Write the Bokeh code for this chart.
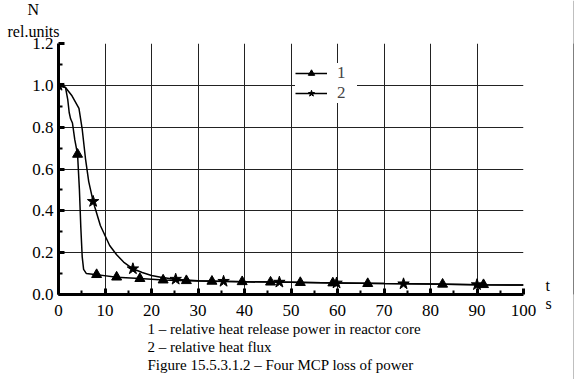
from bokeh.plotting import figure
from bokeh.models import (FixedTicker, PrintfTickFormatter, Legend, LegendItem,
                          Range1d, Title, LinearAxis)
from bokeh.layouts import row
from bokeh.embed import file_html
from bokeh.resources import INLINE

# ---- data ----
t1 = [0, 1.5, 2.0, 2.3, 2.6, 3.0, 3.5, 4.1, 4.5, 4.8, 5.1, 5.4, 6.0, 8.2, 12.5,
      17.5, 22.5, 27.5, 33, 40, 50, 60, 70, 80, 90, 100]
n1 = [1.0, 0.99, 0.93, 0.87, 0.84, 0.82, 0.74, 0.67, 0.50, 0.32, 0.18, 0.12, 0.10,
      0.095, 0.083, 0.076, 0.069, 0.066, 0.063, 0.061, 0.058, 0.055, 0.052, 0.050,
      0.047, 0.045]
t1_mark = [4.1, 8.2, 12.5, 17.5, 22.5, 27.5, 33, 39.5, 45.6, 52, 59, 66.5, 82.6, 91.4]
n1_mark = [0.67, 0.095, 0.083, 0.076, 0.069, 0.066, 0.063, 0.061, 0.059, 0.057,
           0.055, 0.052, 0.049, 0.047]

t2 = [0, 1.5, 2.9, 4.4, 5.1, 5.8, 6.5, 7.45, 9.0, 11.0, 12.5, 14, 16, 18, 20, 22,
      25, 30, 35, 40, 50, 60, 70, 80, 90, 100]
n2 = [1.0, 0.99, 0.95, 0.89, 0.79, 0.65, 0.54, 0.445, 0.33, 0.234, 0.19, 0.155,
      0.123, 0.105, 0.091, 0.082, 0.073, 0.066, 0.063, 0.061, 0.058, 0.055, 0.052,
      0.050, 0.047, 0.045]
t2_mark = [0, 7.45, 16, 25.2, 35.5, 47.5, 59.8, 74.2, 90]
n2_mark = [1.0, 0.445, 0.123, 0.073, 0.063, 0.059, 0.055, 0.051, 0.047]

x_ticks = [0, 10, 20, 30, 40, 50, 60, 70, 80, 90, 100]
x_minor = [5, 15, 25, 35, 45, 55, 65, 75, 85, 95]
y_ticks = [0.0, 0.2, 0.4, 0.6, 0.8, 1.0, 1.2]
y_minor = [0.1, 0.3, 0.5, 0.7, 0.9, 1.1]

legend_labels = ["1", "2"]
y_title = ["N", "rel.units"]
x_title = "t\ns"
caption = ["1 \u2013 relative heat release power in reactor core",
           "2 \u2013 relative heat flux",
           "Figure 15.5.3.1.2 \u2013 Four MCP loss of power"]

W, H = 573, 379
FL, FT, FR, FB = 58, 43, 523, 294   # frame edges in page pixels
FONT = "Liberation Serif"

p = figure(width=W, height=H, output_backend="svg", toolbar_location=None,
           x_range=Range1d(0, 100), y_range=Range1d(0, 1.2),
           min_border_left=FL, min_border_right=W - FR, min_border_top=FT,
           min_border_bottom=H - FB)
p.outline_line_color = None
p.background_fill_color = "white"
p.border_fill_color = "white"

for ax, tk, mn in ((p.xaxis[0], x_ticks, x_minor), (p.yaxis[0], y_ticks, y_minor)):
    ax.ticker = FixedTicker(ticks=tk, minor_ticks=mn)
    ax.axis_line_width = 3
    ax.axis_line_color = "black"
    ax.major_tick_in = 6
    ax.major_tick_out = 0
    ax.minor_tick_in = 4
    ax.minor_tick_out = 0
    ax.major_tick_line_width = 3
    ax.minor_tick_line_width = 2
    ax.major_tick_line_color = "black"
    ax.minor_tick_line_color = "black"
    ax.major_label_text_font = FONT
    ax.major_label_text_font_size = "17px"
    ax.major_label_text_color = "black"

p.yaxis[0].formatter = PrintfTickFormatter(format="%.1f")
p.xaxis[0].major_label_standoff = 10
p.yaxis[0].major_label_standoff = 5

for g in (p.xgrid[0], p.ygrid[0]):
    g.grid_line_color = "#222222"
    g.grid_line_width = 1

l1 = p.line(t1, n1, line_color="black", line_width=1.5)
s1 = p.scatter(t1_mark, n1_mark, marker="triangle", size=10, fill_color="black",
               line_color="black")
l2 = p.line(t2, n2, line_color="black", line_width=1.5)
s2 = p.scatter(t2_mark, n2_mark, marker="star", size=12, fill_color="black",
               line_color="black")

leg = Legend(items=[LegendItem(label=legend_labels[0], renderers=[l1, s1]),
                    LegendItem(label=legend_labels[1], renderers=[l2, s2])],
             location=(237, 191), background_fill_color="white",
             background_fill_alpha=1.0, border_line_color=None,
             label_text_font=FONT, label_text_font_size="17px",
             glyph_width=32, glyph_height=16, label_standoff=10, spacing=0,
             padding=10, margin=0, label_height=16)
p.add_layout(leg, "center")

# x quantity "t / s": a label-only axis on the right, at the level of y = 0
tax = LinearAxis(ticker=FixedTicker(ticks=[0.0]),
                 major_label_overrides={0.0: x_title})
tax.axis_line_color = None
tax.major_tick_line_color = None
tax.minor_tick_line_color = None
tax.major_label_standoff = 16
tax.major_label_text_font = FONT
tax.major_label_text_font_size = "16px"
tax.major_label_text_color = "black"
tax.major_label_text_align = "left"
tax.major_label_text_line_height = 1.1
p.add_layout(tax, "right")


def make_title(text, offset, standoff, size):
    kw = dict(text=text, align="left", offset=offset, text_font=FONT,
              text_font_size=size, text_font_style="normal", text_color="black")
    try:
        return Title(standoff=standoff, **kw)
    except Exception:
        return Title(standoff=0, **kw)


# y quantity "N / rel.units" above the frame (first added = nearest the frame)
p.add_layout(make_title(y_title[1], -51, 8, "16px"), "above")
p.add_layout(make_title(y_title[0], -31, -3, "16px"), "above")

# caption below the axis
for c in caption:
    p.add_layout(make_title(c, 89, 0, "15px"), "below")

# thin vertical rule at the right edge of the page
edge = figure(width=1, height=H, output_backend="svg", toolbar_location=None,
              min_border_left=0, min_border_right=0, min_border_top=0,
              min_border_bottom=0, x_axis_type=None, y_axis_type=None)
edge.outline_line_color = None
edge.grid.visible = False
edge.background_fill_color = "black"
edge.border_fill_color = "black"

open("out.html", "w").write(file_html(row(p, edge), INLINE))
